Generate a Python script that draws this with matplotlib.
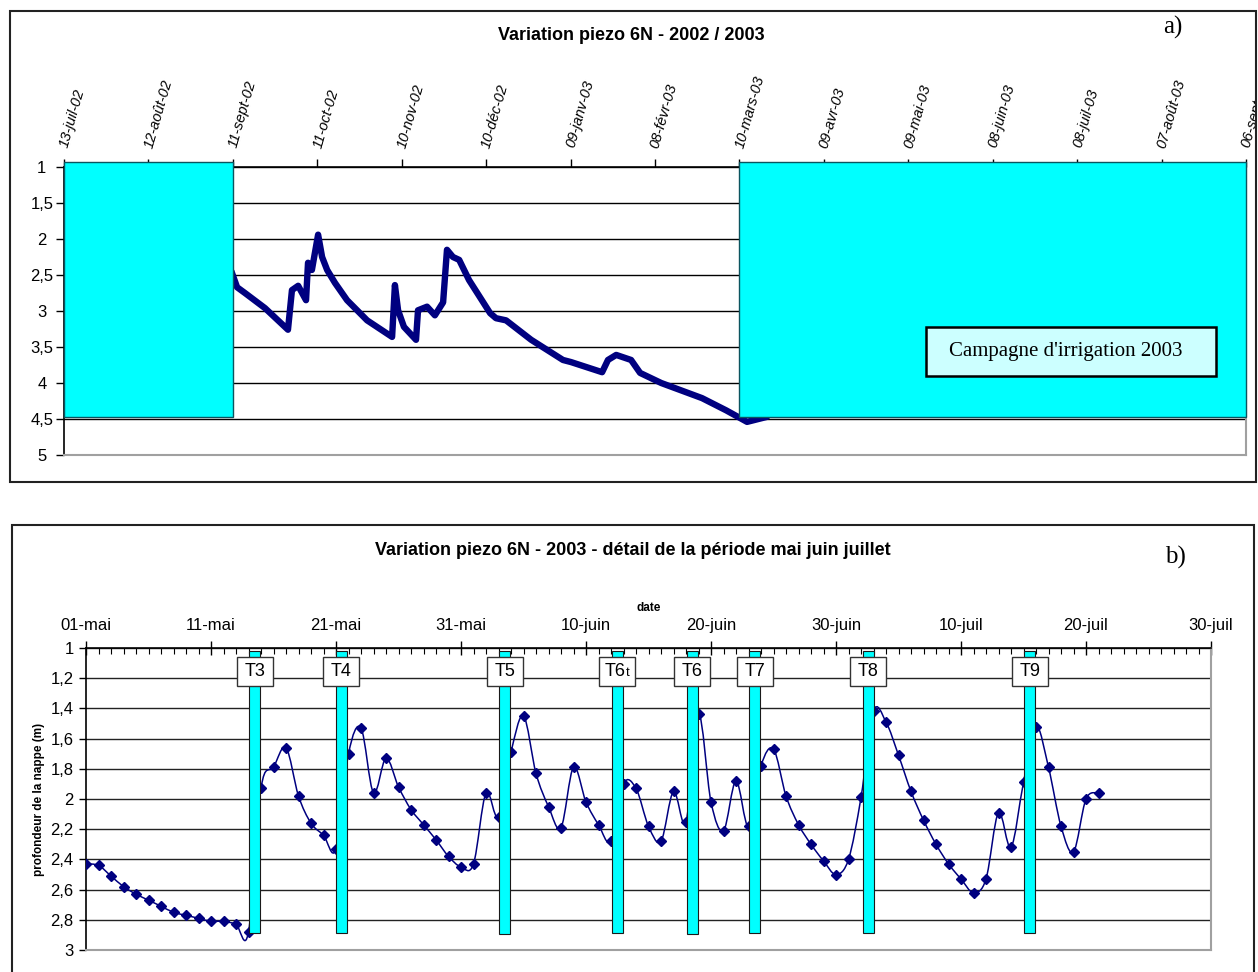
import matplotlib
matplotlib.use("Agg")
import matplotlib.pyplot as plt
import matplotlib.dates as mdates
import matplotlib.patches as mpatches
import matplotlib.transforms as mtrans
from matplotlib.path import Path
from matplotlib.offsetbox import TextArea, HPacker, AnnotationBbox
import numpy as np
import pandas as pd

plt.rcParams['font.family'] = ['Liberation Sans', 'DejaVu Sans']

# ---------------- chart a) data ----------------
a_title = "Variation piezo 6N - 2002 / 2003"
a_dates = ['2002-09-10 12:00', '2002-09-12 12:00', '2002-09-15 07:00', '2002-09-22 10:00',
           '2002-09-30 14:00', '2002-10-02 00:00', '2002-10-04 05:00', '2002-10-07 00:00',
           '2002-10-07 17:00', '2002-10-09 02:00', '2002-10-11 07:00', '2002-10-12 17:00',
           '2002-10-14 12:00', '2002-10-17 07:00', '2002-10-21 14:00', '2002-10-28 17:00',
           '2002-11-06 14:00', '2002-11-07 14:00', '2002-11-08 17:00', '2002-11-10 19:00',
           '2002-11-15 02:00', '2002-11-15 19:00', '2002-11-19 00:00', '2002-11-21 19:00',
           '2002-11-24 17:00', '2002-11-26 02:00', '2002-11-28 05:00', '2002-11-30 10:00',
           '2002-12-03 22:00', '2002-12-11 10:00', '2002-12-13 12:00', '2002-12-17 02:00',
           '2002-12-26 00:00', '2003-01-06 07:00', '2003-01-09 05:00', '2003-01-20 05:00',
           '2003-01-22 07:00', '2003-01-25 05:00', '2003-01-30 12:00', '2003-02-02 17:00',
           '2003-02-10 05:00', '2003-02-24 17:00', '2003-03-05 07:00', '2003-03-12 17:00',
           '2003-03-19 19:00']
a_depth = [2.45, 2.67, 2.75, 2.96,
           3.26, 2.71, 2.65, 2.85,
           2.33, 2.43, 1.94, 2.25,
           2.43, 2.61, 2.85, 3.13,
           3.36, 2.64, 2.99, 3.22,
           3.40, 2.99, 2.94, 3.06,
           2.88, 2.15, 2.25, 2.29,
           2.57, 3.03, 3.10, 3.13,
           3.40, 3.68, 3.71, 3.85,
           3.68, 3.61, 3.68, 3.86,
           4.00, 4.21, 4.38, 4.54,
           4.47]
a_tick_dates = ['2002-07-13', '2002-08-12', '2002-09-11', '2002-10-11', '2002-11-10',
                '2002-12-10', '2003-01-09', '2003-02-08', '2003-03-10', '2003-04-09',
                '2003-05-09', '2003-06-08', '2003-07-08', '2003-08-07', '2003-09-06']
a_tick_labels = ['13-juil-02', '12-août-02', '11-sept-02', '11-oct-02', '10-nov-02',
                 '10-déc-02', '09-janv-03', '08-févr-03', '10-mars-03', '09-avr-03',
                 '09-mai-03', '08-juin-03', '08-juil-03', '07-août-03', '06-sept-03']
a_y_ticks = [1, 1.5, 2, 2.5, 3, 3.5, 4, 4.5, 5]
a_y_labels = ['1', '1,5', '2', '2,5', '3', '3,5', '4', '4,5', '5']
a_period_start = ['2002-07-13', '2003-03-10']
a_period_end = ['2002-09-11', '2003-09-06']
a_period_top = 0.93
a_period_bottom = 4.47
a_note = "Campagne d'irrigation 2003"

# ---------------- chart b) data ----------------
b_title = "Variation piezo 6N - 2003 - détail de la période mai juin juillet"
b_start = '2003-05-01'
b_depth = [2.43, 2.44, 2.51, 2.58, 2.63, 2.67, 2.71, 2.75, 2.77, 2.79,
           2.81, 2.81, 2.83, 2.88, 1.93, 1.79, 1.66, 1.98, 2.16, 2.24,
           2.33, 1.70, 1.53, 1.96, 1.73, 1.92, 2.07, 2.17, 2.27, 2.38,
           2.45, 2.43, 1.96, 2.12, 1.69, 1.45, 1.83, 2.05, 2.19, 1.79,
           2.02, 2.17, 2.28, 1.90, 1.93, 2.18, 2.28, 1.95, 2.15, 1.44,
           2.02, 2.21, 1.88, 2.18, 1.78, 1.67, 1.98, 2.17, 2.30, 2.41,
           2.50, 2.40, 1.99, 1.42, 1.49, 1.71, 1.95, 2.14, 2.30, 2.43,
           2.53, 2.62, 2.53, 2.09, 2.32, 1.89, 1.52, 1.79, 2.18, 2.35,
           2.00, 1.96]
b_treat_labels = ['T3', 'T4', 'T5', 'T6t', 'T6', 'T7', 'T8', 'T9']
b_treat_dates = ['2003-05-14 12:00', '2003-05-21 10:00', '2003-06-03 12:00', '2003-06-12 12:00',
                 '2003-06-18 12:00', '2003-06-23 12:00', '2003-07-02 14:00', '2003-07-15 12:00']
b_treat_top = 1.02
b_treat_bottom = [2.885, 2.885, 2.895, 2.885, 2.895, 2.885, 2.885, 2.885]
b_tick_dates = ['2003-05-01', '2003-05-11', '2003-05-21', '2003-05-31', '2003-06-10',
                '2003-06-20', '2003-06-30', '2003-07-10', '2003-07-20', '2003-07-30']
b_tick_labels = ['01-mai', '11-mai', '21-mai', '31-mai', '10-juin',
                 '20-juin', '30-juin', '10-juil', '20-juil', '30-juil']
b_y_ticks = [1, 1.2, 1.4, 1.6, 1.8, 2, 2.2, 2.4, 2.6, 2.8, 3]
b_y_labels = ['1', '1,2', '1,4', '1,6', '1,8', '2', '2,2', '2,4', '2,6', '2,8', '3']

# ---------------- styles ----------------
NAVY = '#000080'
CYAN = '#00FFFF'
W, H = 1258, 972


def dn(lst):
    return mdates.date2num(pd.to_datetime(lst).to_numpy())


def fx(x):
    return x / W


def fy(y):
    return 1 - y / H


fig = plt.figure(figsize=(W / 100, H / 100), dpi=100)
fig.patch.set_facecolor('white')

# chart frames
fig.add_artist(mpatches.Rectangle((fx(10), fy(482)), (1256 - 10) / W, (482 - 11) / H,
                                  transform=fig.transFigure, fill=False,
                                  edgecolor='#222222', lw=1.5, zorder=0.1))
fig.add_artist(mpatches.Rectangle((fx(12), fy(980)), (1254 - 12) / W, (980 - 525) / H,
                                  transform=fig.transFigure, fill=False,
                                  edgecolor='#222222', lw=1.5, zorder=0.1))

# ================= chart a =================
ax1 = fig.add_axes([fx(64), fy(455), (1246 - 64) / W, (455 - 167) / H])
ax1.plot(dn(a_dates), a_depth, color=NAVY, lw=4.6, solid_joinstyle='round',
         solid_capstyle='round', zorder=2)
for s, e in zip(a_period_start, a_period_end):
    x0, x1 = dn([s, e])
    ax1.add_patch(mpatches.Rectangle((x0, a_period_top), x1 - x0, a_period_bottom - a_period_top,
                                     facecolor=CYAN, edgecolor='#0b5560', lw=1.0,
                                     zorder=3, clip_on=False))
ax1.set_xlim(*dn([a_tick_dates[0], a_tick_dates[-1]]))
ax1.set_ylim(5, 1)
ax1.xaxis.tick_top()
ax1.set_xticks(dn(a_tick_dates))
ax1.set_xticklabels(a_tick_labels, fontsize=10.5, fontstyle='italic')
ax1.set_yticks(a_y_ticks)
ax1.set_yticklabels(a_y_labels, fontsize=12)
ax1.tick_params(axis='x', direction='out', length=6, width=1, pad=8, color='black')
ax1.tick_params(axis='y', direction='out', length=6, width=1, pad=10, color='black')
plt.setp(ax1.get_xticklabels(), rotation=74, ha='left', va='center', rotation_mode='anchor')
plt.setp(ax1.get_yticklabels(), ha='center')
ax1.yaxis.grid(True, color='black', lw=1.0)
ax1.set_axisbelow(True)
for sp in ('left', 'top'):
    ax1.spines[sp].set_color('black')
    ax1.spines[sp].set_linewidth(1.2)
for sp in ('right', 'bottom'):
    ax1.spines[sp].set_color('#a0a0a0')
    ax1.spines[sp].set_linewidth(1.5)
# the last date label is cut by the chart frame, as in the original
clipbox = mtrans.TransformedBbox(mtrans.Bbox.from_extents(fx(10), fy(482), fx(1256), fy(11)),
                                 fig.transFigure)
for lab in ax1.get_xticklabels():
    lab.set_clip_box(clipbox)
    lab.set_clip_on(True)

fig.text(fx(631), fy(36), a_title, ha='center', va='center', fontsize=13, fontweight='bold')
fig.text(fx(1173), fy(27), 'a)', ha='center', va='center', fontsize=18,
         family=['Liberation Serif', 'DejaVu Serif'])
fig.add_artist(mpatches.Rectangle((fx(926), fy(376)), (1216 - 926) / W, (376 - 327) / H,
                                  transform=fig.transFigure, facecolor='#CCFFFF',
                                  edgecolor='black', lw=1.8, zorder=4))
fig.text(fx(1066), fy(351), a_note, ha='center', va='center', fontsize=15,
         family=['Liberation Serif', 'DejaVu Serif'], zorder=5)

# ================= chart b =================
ax2 = fig.add_axes([fx(86), fy(950), (1211 - 86) / W, (950 - 648) / H])
bx = mdates.date2num(pd.date_range(b_start, periods=len(b_depth), freq='D').to_numpy())
by = np.array(b_depth)
# smoothed (Excel-like bezier) line through the measured points
P = np.column_stack([bx, by])
verts = [tuple(P[0])]
codes = [Path.MOVETO]
n = len(P)
for i in range(n - 1):
    p0 = P[i - 1] if i > 0 else P[i]
    p3 = P[i + 2] if i + 2 < n else P[i + 1]
    c1 = P[i] + (P[i + 1] - p0) / 6.0
    c2 = P[i + 1] - (p3 - P[i]) / 6.0
    verts += [tuple(c1), tuple(c2), tuple(P[i + 1])]
    codes += [Path.CURVE4] * 3
ax2.add_patch(mpatches.PathPatch(Path(verts, codes), fill=False, edgecolor=NAVY, lw=1.1, zorder=2))
ax2.plot(bx, by, ls='none', marker='D', ms=5.5, color=NAVY, zorder=3)

tx = dn(b_treat_dates)
ax2.bar(tx, np.array(b_treat_bottom) - b_treat_top, bottom=b_treat_top, width=0.9,
        color=CYAN, edgecolor='#1a1a1a', lw=0.8, zorder=4)
for x, lab in zip(tx, b_treat_labels):
    trans = fig.dpi_scale_trans + mtrans.ScaledTranslation(x, 1.155, ax2.transData)
    ax2.add_artist(mpatches.Rectangle((-0.178, -0.145), 0.356, 0.29, transform=trans,
                                      facecolor='white', edgecolor='#333333', lw=1.0,
                                      zorder=5, clip_on=False))
    if lab == 'T6t':
        pk = HPacker(children=[TextArea(lab[:2], textprops=dict(fontsize=13)),
                               TextArea(lab[2:], textprops=dict(fontsize=9.5))],
                     align='baseline', pad=0, sep=0)
        ab = AnnotationBbox(pk, (x, 1.155), xycoords='data', frameon=False, pad=0,
                            box_alignment=(0.5, 0.5), zorder=6, annotation_clip=False)
        ax2.add_artist(ab)
    else:
        ax2.text(x, 1.155, lab, ha='center', va='center', fontsize=13, zorder=6)

ax2.set_xlim(*dn([b_tick_dates[0], b_tick_dates[-1]]))
ax2.set_ylim(3, 1)
ax2.xaxis.tick_top()
ax2.xaxis.set_label_position('top')
ax2.set_xticks(dn(b_tick_dates))
ax2.set_xticklabels(b_tick_labels, fontsize=12)
ax2.xaxis.set_minor_locator(mdates.DayLocator())
ax2.tick_params(axis='x', which='major', direction='inout', length=10, width=1, pad=6)
ax2.tick_params(axis='x', which='minor', direction='in', length=4.5, width=0.8)
ax2.set_yticks(b_y_ticks)
ax2.set_yticklabels(b_y_labels, fontsize=12)
ax2.tick_params(axis='y', direction='out', length=5, width=1, pad=4)
ax2.set_xlabel('date', fontsize=8.5, fontweight='bold', labelpad=5)
ax2.set_ylabel('profondeur de la nappe (m)', fontsize=8.5, fontweight='bold', labelpad=4)
ax2.yaxis.grid(True, color='#222222', lw=1.0)
ax2.set_axisbelow(True)
for sp in ('left', 'top'):
    ax2.spines[sp].set_color('black')
    ax2.spines[sp].set_linewidth(1.2)
for sp in ('right', 'bottom'):
    ax2.spines[sp].set_color('#a0a0a0')
    ax2.spines[sp].set_linewidth(1.5)

fig.text(fx(633), fy(550), b_title, ha='center', va='center', fontsize=13, fontweight='bold')
fig.text(fx(1175), fy(557), 'b)', ha='center', va='center', fontsize=18,
         family=['Liberation Serif', 'DejaVu Serif'])

fig.savefig('out.png', dpi=100, facecolor='white')
